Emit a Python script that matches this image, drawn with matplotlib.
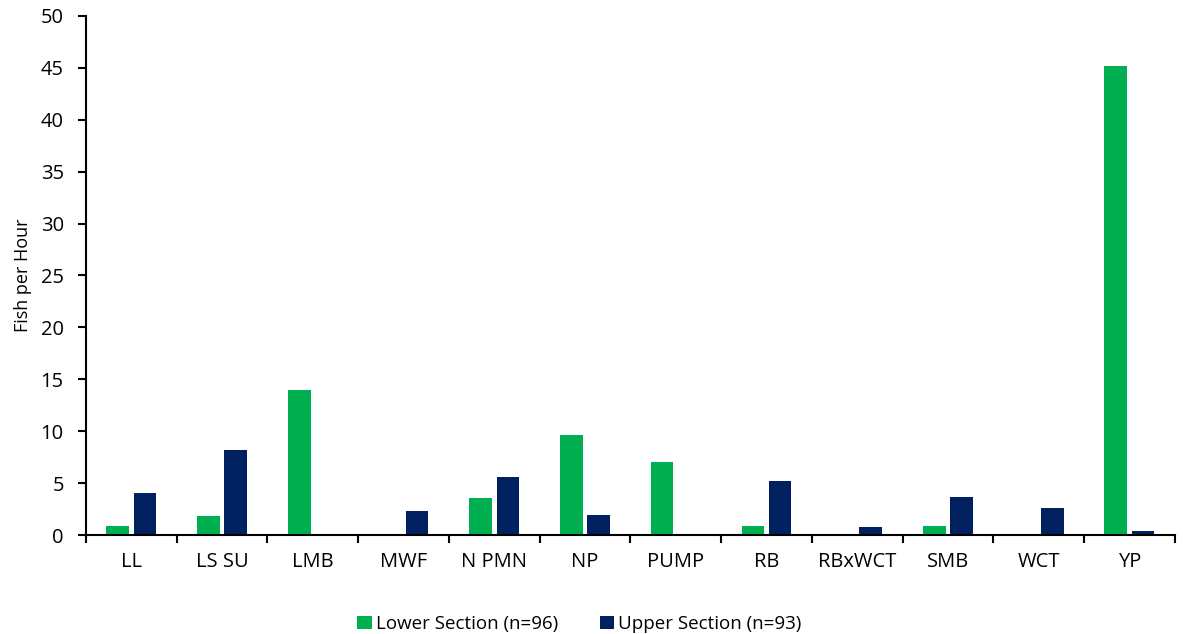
import matplotlib.pyplot as plt
import numpy as np

# Fish per hour by species and river section
species = ['LL', 'LS SU', 'LMB', 'MWF', 'N PMN', 'NP', 'PUMP', 'RB',
           'RBxWCT', 'SMB', 'WCT', 'YP']
lower = [0.9, 1.8, 14.0, 0.0, 3.6, 9.6, 7.0, 0.9, 0.0, 0.9, 0.0, 45.2]
upper = [4.1, 8.2, 0.0, 2.3, 5.6, 1.9, 0.0, 5.2, 0.8, 3.7, 2.6, 0.4]
series_labels = ['Lower Section (n=96)', 'Upper Section (n=93)']

plt.rcParams['font.family'] = ['Open Sans', 'DejaVu Sans']

fig = plt.figure(figsize=(11.83, 6.34), dpi=100)
ax = fig.add_axes([0.0727, 0.156, 0.9203, 0.819])

x = np.arange(len(species))
w = 0.25
ax.bar(x - 0.15, lower, w, color='#00B050', label=series_labels[0])
ax.bar(x + 0.15, upper, w, color='#002060', label=series_labels[1])

ax.set_xlim(-0.5, len(species) - 0.5)
ax.set_ylim(0, 50)
ax.set_yticks(range(0, 51, 5))
ax.set_xticks(x)
ax.set_xticklabels(species)
ax.set_xticks(np.arange(-0.5, len(species), 1.0), minor=True)
ax.tick_params(axis='x', which='major', length=0, pad=12, labelsize=14.5)
ax.tick_params(axis='x', which='minor', length=6, width=1.5, direction='out')
ax.tick_params(axis='y', length=6, width=1.5, labelsize=14.5, pad=10)
ax.set_ylabel('Fish per Hour', fontsize=13, labelpad=6)

for side in ['top', 'right']:
    ax.spines[side].set_visible(False)
for side in ['left', 'bottom']:
    ax.spines[side].set_linewidth(1.5)

fig.legend(loc='lower center', bbox_to_anchor=(0.49, -0.025), ncol=2,
           frameon=False, fontsize=13.5, handlelength=0.75, handleheight=0.75,
           handletextpad=0.25, columnspacing=2.2)

fig.savefig('out.png', dpi=100)
